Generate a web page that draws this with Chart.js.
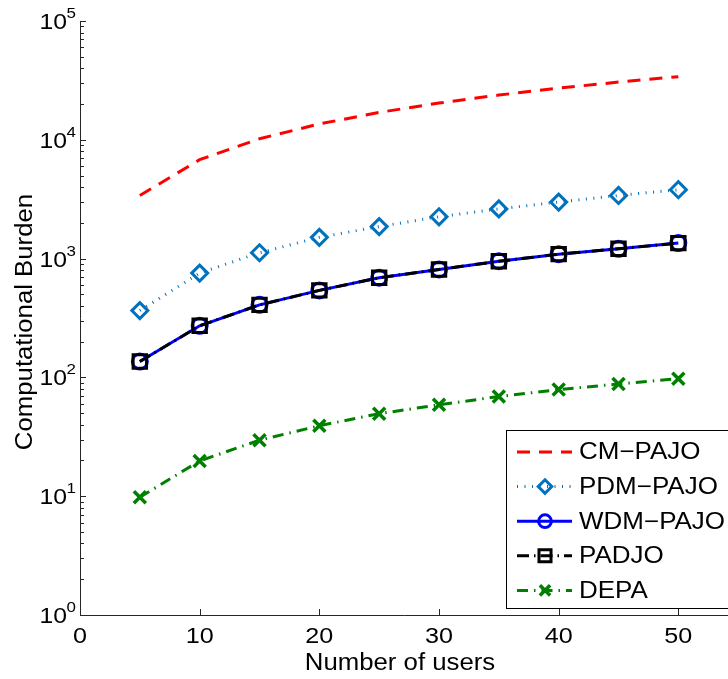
<!DOCTYPE html>
<html>
<head>
    <title>Computational Burden</title>
    <script src="https://cdn.jsdelivr.net/npm/chart.js"></script>
    <style>
        body { margin: 0; background: #fff; overflow: hidden; }
    </style>
</head>
<body>
    <canvas id="burdenChart" width="728" height="679"></canvas>

    <script>
        // number of users on the x axis
        const users = [5, 10, 15, 20, 25, 30, 35, 40, 45, 50];

        const cmPajo  = [3400, 6800, 10200, 13600, 17000, 20400, 23800, 27200, 30600, 34000];
        const pdmPajo = [365, 755, 1120, 1510, 1860, 2250, 2620, 2990, 3400, 3800];
        const wdmPajo = [136, 272, 408, 540, 690, 810, 950, 1090, 1210, 1350];
        const padjo   = [136, 272, 408, 540, 690, 810, 950, 1090, 1210, 1350];
        const depa    = [9.8, 19.8, 29.6, 39.2, 49.5, 58.8, 69, 79, 88, 97.5];

        const xTicks = [0, 10, 20, 30, 40, 50];
        const yExponents = [0, 1, 2, 3, 4, 5];

        const FONT = '"Liberation Sans", Arial, Helvetica, sans-serif';
        const STRETCH = 1.13;   // the figure's Helvetica runs a bit wider than Arial

        const series = [
            { label: 'CM\u2212PAJO',  data: cmPajo,  color: '#ff0000', dash: [13, 9],          width: 3,   point: false,      radius: 0,   pw: 0 },
            { label: 'PDM\u2212PAJO', data: pdmPajo, color: '#0072bd', dash: [1, 6.5],         width: 3,   point: 'rectRot',  radius: 8,   pw: 3 },
            { label: 'WDM\u2212PAJO', data: wdmPajo, color: '#0000ff', dash: [],               width: 3,   point: 'circle',   radius: 7.5, pw: 3 },
            { label: 'PADJO',         data: padjo,   color: '#000000', dash: [12, 5, 1.5, 5],  width: 3,   point: 'rect',     radius: 9.5, pw: 3 },
            { label: 'DEPA',          data: depa,    color: '#008000', dash: [11, 6, 1.5, 6],  width: 3,   point: 'crossRot', radius: 8.5, pw: 3.5 }
        ];

        // text drawn with a horizontal stretch around (x, y)
        function wideText(ctx, text, x, y, sx) {
            ctx.save();
            ctx.translate(x, y);
            ctx.scale(sx, 1);
            ctx.fillText(text, 0, 0);
            ctx.restore();
        }

        // MATLAB style axes: left/bottom lines with inward ticks, 10^n labels
        const axesPlugin = {
            id: 'matlabAxes',
            afterDraw(chart) {
                const ctx = chart.ctx;
                const area = chart.chartArea;
                const xs = chart.scales.x;
                const ys = chart.scales.y;
                ctx.save();
                ctx.strokeStyle = '#262626';
                ctx.lineWidth = 1;
                ctx.beginPath();
                ctx.moveTo(area.left + 0.5, area.top);
                ctx.lineTo(area.left + 0.5, area.bottom + 0.5);
                ctx.lineTo(area.right, area.bottom + 0.5);
                ctx.stroke();

                // y ticks, major and minor
                ctx.beginPath();
                yExponents.forEach(e => {
                    const y = Math.round(ys.getPixelForValue(Math.pow(10, e))) + 0.5;
                    ctx.moveTo(area.left, y);
                    ctx.lineTo(area.left + 6, y);
                    if (e < 5) {
                        for (let m = 2; m <= 9; m++) {
                            const ym = Math.round(ys.getPixelForValue(m * Math.pow(10, e))) + 0.5;
                            ctx.moveTo(area.left, ym);
                            ctx.lineTo(area.left + 4, ym);
                        }
                    }
                });
                // x ticks
                xTicks.forEach(v => {
                    const x = Math.round(xs.getPixelForValue(v)) + 0.5;
                    ctx.moveTo(x, area.bottom);
                    ctx.lineTo(x, area.bottom - 6);
                });
                ctx.stroke();

                ctx.fillStyle = '#000';
                ctx.textAlign = 'center';
                ctx.textBaseline = 'top';
                ctx.font = '21.5px ' + FONT;
                xTicks.forEach(v => {
                    wideText(ctx, String(v), xs.getPixelForValue(v), area.bottom + 11, 1.17);
                });

                yExponents.forEach(e => {
                    const y = ys.getPixelForValue(Math.pow(10, e));
                    const right = area.left - 4;
                    ctx.font = '15px ' + FONT;
                    const ew = ctx.measureText(String(e)).width * STRETCH;
                    ctx.textAlign = 'left';
                    ctx.textBaseline = 'alphabetic';
                    wideText(ctx, String(e), right - ew, y - 3, STRETCH);
                    ctx.font = '21.5px ' + FONT;
                    ctx.textAlign = 'right';
                    wideText(ctx, '10', right - ew + 0.5, y + 8, 1.15);
                });

                // axis titles
                ctx.font = '23px ' + FONT;
                ctx.textAlign = 'center';
                ctx.textBaseline = 'alphabetic';
                wideText(ctx, 'Number of users', 400, 670, 1.12);
                ctx.save();
                ctx.translate(32, 322);
                ctx.rotate(-Math.PI / 2);
                wideText(ctx, 'Computational Burden', 0, 0, 1.12);
                ctx.restore();
                ctx.restore();
            }
        };

        // boxed legend inside the lower right of the plot
        const legendPlugin = {
            id: 'boxLegend',
            afterDraw(chart) {
                const ctx = chart.ctx;
                const box = { x: 506, y: 430, w: 240, h: 178 };
                ctx.save();
                ctx.fillStyle = '#fff';
                ctx.fillRect(box.x, box.y, box.w, box.h);
                ctx.strokeStyle = '#000';
                ctx.lineWidth = 1;
                ctx.strokeRect(box.x + 0.5, box.y + 0.5, box.w, box.h);

                series.forEach((s, i) => {
                    const y = 452 + i * 34.6;
                    ctx.strokeStyle = s.color;
                    ctx.lineWidth = s.width;
                    ctx.setLineDash(s.dash);
                    ctx.beginPath();
                    ctx.moveTo(517, y);
                    ctx.lineTo(572, y);
                    ctx.stroke();
                    ctx.setLineDash([]);
                    if (s.point) {
                        ctx.fillStyle = 'rgba(0,0,0,0)';
                        ctx.lineWidth = s.pw;
                        Chart.helpers.drawPoint(ctx, {
                            pointStyle: s.point,
                            radius: s.point === 'rect' ? 8.5 : s.radius * 0.85,
                            rotation: 0,
                            borderWidth: s.pw
                        }, 545, y);
                    }
                    ctx.fillStyle = '#000';
                    ctx.font = '23px ' + FONT;
                    ctx.textAlign = 'left';
                    ctx.textBaseline = 'middle';
                    wideText(ctx, s.label, 579, y + 1, 1.13);
                });
                ctx.restore();
            }
        };

        const ctx = document.getElementById('burdenChart').getContext('2d');
        const burdenChart = new Chart(ctx, {
            type: 'line',
            data: {
                labels: users,
                datasets: series.map((s, i) => ({
                    label: s.label,
                    data: s.data.map((v, j) => ({ x: users[j], y: v })),
                    borderColor: s.color,
                    backgroundColor: 'rgba(0,0,0,0)',
                    borderWidth: s.width,
                    borderDash: s.dash,
                    tension: 0,
                    fill: false,
                    pointStyle: s.point,
                    pointRadius: s.radius,
                    pointBorderWidth: s.pw,
                    pointBorderColor: s.color,
                    pointBackgroundColor: 'rgba(0,0,0,0)',
                    clip: false,
                    order: series.length - i
                }))
            },
            options: {
                responsive: false,
                animation: false,
                events: [],
                layout: {
                    autoPadding: false,
                    padding: { left: 80, top: 21, right: 0, bottom: 64 }
                },
                plugins: {
                    legend: { display: false },
                    tooltip: { enabled: false }
                },
                scales: {
                    x: { type: 'linear', min: 0, max: 54.15, display: false },
                    y: { type: 'logarithmic', min: 1, max: 100000, display: false }
                }
            },
            plugins: [axesPlugin, legendPlugin]
        });
    </script>
</body>
</html>
